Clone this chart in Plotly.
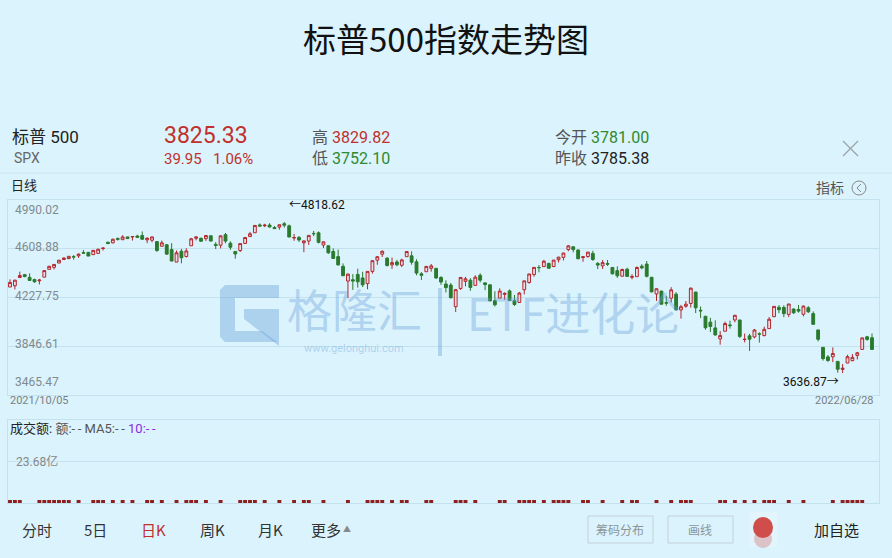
import plotly.graph_objects as go

W, H = 892, 558

# ---------------------------------------------------------------- data --- #
# trading days in the feed (the feed skips 2021-11-02 .. 2021-11-10)
months = ["2021-10", "2021-11", "2021-12", "2022-01", "2022-02",
          "2022-03", "2022-04", "2022-05", "2022-06"]
month_days = [
    [5, 6, 7, 8, 11, 12, 13, 14, 15, 18, 19, 20, 21, 22, 25, 26, 27, 28, 29],
    [1, 11, 12, 15, 16, 17, 18, 19, 22, 23, 24, 26, 29, 30],
    [1, 2, 3, 6, 7, 8, 9, 10, 13, 14, 15, 16, 17, 20, 21, 22, 23, 27, 28, 29, 30, 31],
    [3, 4, 5, 6, 7, 10, 11, 12, 13, 14, 18, 19, 20, 21, 24, 25, 26, 27, 28, 31],
    [1, 2, 3, 4, 7, 8, 9, 10, 11, 14, 15, 16, 17, 18, 22, 23, 24, 25, 28],
    [1, 2, 3, 4, 7, 8, 9, 10, 11, 14, 15, 16, 17, 18, 21, 22, 23, 24, 25, 28, 29, 30, 31],
    [1, 4, 5, 6, 7, 8, 11, 12, 13, 14, 18, 19, 20, 21, 22, 25, 26, 27, 28, 29],
    [2, 3, 4, 5, 6, 9, 10, 11, 12, 13, 16, 17, 18, 19, 20, 23, 24, 25, 26, 27, 31],
    [1, 2, 3, 6, 7, 8, 9, 10, 13, 14, 15, 16, 17, 21, 22, 23, 24, 27, 28],
]

opens = [
    4309.87, 4319.57, 4383.73, 4406.51, 4385.44, 4368.31, 4358.01, 4386.75, 4447.69, 4463.72,
    4497.34, 4524.42, 4532.24, 4546.12, 4553.69, 4578.69, 4580.22, 4562.84, 4572.87,
    4610.62, 4659.39, 4655.24, 4689.30, 4679.42, 4701.50, 4700.72, 4708.44, 4712.00, 4678.48,
    4675.78, 4664.63, 4628.75, 4640.25,
    4602.82, 4504.73, 4589.49, 4548.37, 4631.97, 4690.86, 4691.00, 4687.64, 4710.30, 4642.99,
    4636.46, 4719.13, 4652.50, 4587.90, 4594.96, 4650.36, 4703.96, 4733.99, 4795.49, 4788.64,
    4794.23, 4775.21,
    4778.14, 4804.51, 4787.99, 4693.39, 4697.66, 4655.34, 4669.14, 4728.59, 4733.56, 4637.99,
    4632.24, 4588.03, 4547.35, 4471.38, 4356.32, 4366.64, 4408.43, 4380.58, 4336.19, 4431.79,
    4519.57, 4566.39, 4535.41, 4482.79, 4505.75, 4480.02, 4547.00, 4553.24, 4506.27, 4412.61,
    4429.28, 4455.75, 4456.06, 4384.57, 4332.74, 4324.93, 4155.77, 4298.38, 4354.17,
    4363.14, 4322.56, 4401.31, 4342.12, 4327.01, 4202.66, 4223.10, 4252.55, 4279.50, 4202.75,
    4188.82, 4288.14, 4345.11, 4407.34, 4462.40, 4469.10, 4493.10, 4469.98, 4522.91, 4541.09,
    4602.86, 4624.20, 4599.02,
    4540.32, 4547.97, 4572.45, 4494.17, 4474.65, 4494.15, 4462.64, 4437.59, 4394.30, 4449.12,
    4385.63, 4390.63, 4472.26, 4489.17, 4385.83, 4255.34, 4278.14, 4186.52, 4222.58, 4253.75,
    4130.61, 4159.78, 4181.18, 4270.43, 4128.17, 4081.27, 4035.18, 3990.08, 3903.95, 3963.90,
    4013.02, 4052.00, 4051.98, 3899.00, 3927.76, 3919.42, 3942.94, 3929.59, 3984.60, 4077.43,
    4151.09,
    4149.78, 4095.41, 4137.57, 4134.72, 4096.47, 4147.12, 4101.65, 3974.39, 3838.15, 3763.52,
    3764.05, 3728.18, 3665.90, 3715.31, 3733.89, 3774.71, 3821.75, 3920.76, 3913.00,
]
highs = [
    4369.23, 4365.57, 4429.97, 4412.02, 4415.88, 4374.89, 4372.87, 4439.73, 4475.82, 4488.75,
    4520.40, 4540.87, 4551.44, 4559.67, 4572.62, 4598.53, 4584.57, 4597.55, 4608.08,
    4620.34, 4664.55, 4688.47, 4697.42, 4714.95, 4701.50, 4708.80, 4717.75, 4743.83, 4699.39,
    4702.87, 4664.63, 4672.95, 4646.02,
    4652.94, 4595.46, 4608.03, 4612.60, 4694.04, 4705.06, 4695.26, 4713.57, 4710.30, 4660.47,
    4712.60, 4731.99, 4666.70, 4587.90, 4651.14, 4697.67, 4740.74, 4791.49, 4807.02, 4804.06,
    4808.93, 4786.83,
    4796.64, 4818.62, 4797.70, 4725.01, 4707.95, 4673.02, 4714.13, 4748.83, 4744.13, 4665.13,
    4632.24, 4611.55, 4602.11, 4494.52, 4417.35, 4411.01, 4453.23, 4428.74, 4432.72, 4516.89,
    4550.49, 4595.31, 4542.88, 4539.66, 4521.86, 4531.32, 4590.03, 4588.92, 4526.33, 4426.22,
    4472.77, 4489.55, 4456.06, 4394.60, 4362.12, 4341.51, 4294.73, 4385.34, 4388.84,
    4378.45, 4401.48, 4416.78, 4342.12, 4327.01, 4276.94, 4299.40, 4268.28, 4291.01, 4247.57,
    4271.05, 4358.90, 4412.67, 4465.40, 4481.75, 4522.00, 4501.07, 4520.58, 4546.03, 4575.65,
    4637.30, 4627.77, 4603.07,
    4548.70, 4583.50, 4593.45, 4503.94, 4521.16, 4520.41, 4464.35, 4471.00, 4453.92, 4460.46,
    4410.31, 4471.03, 4488.29, 4512.94, 4385.83, 4299.02, 4278.14, 4240.71, 4308.45, 4269.68,
    4169.81, 4200.10, 4307.66, 4270.43, 4157.69, 4081.27, 4068.82, 4049.09, 3964.80, 4038.88,
    4046.46, 4090.72, 4051.98, 3945.96, 3943.42, 3981.88, 3955.68, 3999.33, 4075.14, 4158.49,
    4168.34,
    4166.54, 4177.51, 4142.67, 4168.78, 4164.86, 4160.14, 4119.10, 3974.39, 3838.15, 3778.18,
    3837.56, 3728.18, 3707.71, 3779.65, 3785.33, 3802.58, 3913.65, 3927.72, 3945.86,
]
lows = [
    4309.87, 4290.49, 4383.73, 4386.22, 4360.59, 4342.09, 4329.92, 4386.75, 4447.69, 4447.47,
    4496.41, 4524.40, 4526.89, 4524.00, 4537.36, 4569.17, 4551.66, 4562.84, 4567.59,
    4595.06, 4648.31, 4650.77, 4672.86, 4679.42, 4684.41, 4672.78, 4694.22, 4682.17, 4652.66,
    4659.89, 4585.43, 4625.26, 4560.00,
    4510.27, 4504.73, 4495.12, 4540.51, 4631.97, 4674.52, 4665.98, 4670.24, 4667.60, 4606.52,
    4611.22, 4651.89, 4600.22, 4531.10, 4583.16, 4645.53, 4703.96, 4733.99, 4780.04, 4778.08,
    4775.33, 4765.75,
    4758.17, 4774.27, 4699.44, 4671.26, 4662.74, 4582.24, 4638.27, 4706.71, 4650.29, 4614.75,
    4568.70, 4530.20, 4477.95, 4395.34, 4222.62, 4287.11, 4304.80, 4309.50, 4292.46, 4414.02,
    4483.53, 4544.32, 4470.39, 4451.50, 4471.47, 4465.40, 4547.00, 4484.31, 4401.41, 4364.84,
    4429.28, 4429.68, 4373.81, 4327.22, 4267.11, 4221.51, 4114.65, 4286.83, 4315.12,
    4279.54, 4322.56, 4345.56, 4284.98, 4199.85, 4157.87, 4223.10, 4209.80, 4200.49, 4161.72,
    4187.90, 4251.99, 4335.65, 4390.57, 4424.30, 4469.10, 4455.81, 4465.17, 4501.07, 4517.69,
    4589.66, 4581.32, 4530.41,
    4507.57, 4539.21, 4514.17, 4450.04, 4450.30, 4474.60, 4408.38, 4381.34, 4392.70, 4390.77,
    4370.30, 4390.63, 4448.76, 4384.47, 4267.62, 4200.82, 4175.04, 4162.90, 4188.63, 4124.28,
    4062.51, 4147.08, 4148.91, 4106.01, 4067.91, 3975.48, 3958.17, 3928.82, 3858.87, 3963.90,
    3983.99, 4033.93, 3911.91, 3876.58, 3810.32, 3909.04, 3875.13, 3925.03, 3984.60, 4077.43,
    4104.88,
    4073.85, 4074.37, 4098.67, 4109.18, 4080.19, 4107.20, 4017.17, 3883.79, 3734.30, 3724.38,
    3722.30, 3639.77, 3636.87, 3715.31, 3729.25, 3743.52, 3821.75, 3889.66, 3820.14,
]
closes = [
    4345.72, 4363.55, 4399.76, 4391.34, 4361.19, 4350.65, 4363.80, 4438.26, 4471.37, 4486.46,
    4519.63, 4536.19, 4549.78, 4544.90, 4566.48, 4574.79, 4551.68, 4596.42, 4605.38,
    4613.67, 4649.27, 4682.85, 4682.80, 4700.90, 4688.67, 4704.54, 4697.96, 4682.94, 4690.70,
    4701.46, 4594.62, 4655.27, 4567.00,
    4513.04, 4577.10, 4538.43, 4591.67, 4686.75, 4701.21, 4667.45, 4712.02, 4668.97, 4634.09,
    4709.85, 4668.67, 4620.64, 4568.02, 4649.23, 4696.56, 4725.79, 4791.19, 4786.35, 4793.06,
    4778.73, 4766.18,
    4796.56, 4793.54, 4700.58, 4696.05, 4677.03, 4670.29, 4713.07, 4726.35, 4659.03, 4662.85,
    4577.11, 4532.76, 4482.73, 4397.94, 4410.13, 4356.45, 4349.93, 4326.51, 4431.85, 4515.55,
    4546.54, 4589.38, 4477.44, 4500.53, 4483.87, 4521.54, 4587.18, 4504.08, 4418.64, 4401.67,
    4471.07, 4475.01, 4380.26, 4348.87, 4304.76, 4225.50, 4288.70, 4384.65, 4373.94,
    4306.26, 4386.54, 4363.49, 4328.87, 4201.09, 4170.70, 4277.88, 4259.52, 4204.31, 4173.11,
    4262.45, 4357.86, 4411.67, 4463.12, 4461.18, 4511.61, 4456.24, 4520.16, 4543.06, 4575.52,
    4631.60, 4602.45, 4530.41,
    4545.86, 4582.64, 4525.12, 4481.15, 4500.21, 4488.28, 4412.53, 4397.45, 4446.59, 4392.59,
    4391.69, 4462.21, 4459.45, 4393.66, 4271.78, 4296.12, 4175.20, 4183.96, 4287.50, 4131.93,
    4155.38, 4175.48, 4300.17, 4146.87, 4123.34, 3991.24, 4001.05, 3935.18, 3930.08, 4023.89,
    4008.01, 4088.85, 3923.68, 3900.79, 3901.36, 3973.75, 3941.48, 3978.73, 4057.84, 4158.24,
    4132.15,
    4101.23, 4176.82, 4108.54, 4121.43, 4160.68, 4115.77, 4017.82, 3900.86, 3749.63, 3735.48,
    3789.99, 3666.77, 3674.84, 3764.79, 3759.89, 3795.73, 3911.74, 3900.11, 3821.55,
]

price_ticks = [4990.02, 4608.88, 4227.75, 3846.61, 3465.47]
vol_tick = 23.68  # 亿

dates = [f"{m}-{d:02d}" for m, days in zip(months, month_days) for d in days]
assert len(dates) == len(opens) == len(highs) == len(lows) == len(closes)

# ------------------------------------------------------------- helpers --- #
def px(x):
    return x / W


def py(y):
    return 1 - y / H


def path(points):
    s = "M " + " L ".join(f"{px(x):.5f},{py(y):.5f}" for x, y in points)
    return s + " Z"


RED = "#c0302c"
GREEN = "#2f8a2f"
UP_LINE = "#b3262c"
DOWN = "#2a7a2d"
BG = "#dbf3fc"
GRID = "#c4e2ee"
FONT = "Roboto, Noto Sans CJK SC, sans-serif"
CJK = "Noto Sans CJK SC, sans-serif"
WM = "rgba(105,160,218,0.40)"

annotations = []


def txt(x, y, text, size, color="#222", anchor="left", family=FONT):
    annotations.append(dict(
        x=px(x), y=py(y), xref="paper", yref="paper", text=text,
        showarrow=False, xanchor=anchor, yanchor="middle",
        font=dict(size=size, color=color, family=family),
    ))


# ------------------------------------------------------------- figure --- #
fig = go.Figure()

fig.add_trace(go.Candlestick(
    x=dates, open=opens, high=highs, low=lows, close=closes,
    increasing=dict(line=dict(color=UP_LINE, width=1), fillcolor="rgba(244,214,222,0.75)"),
    decreasing=dict(line=dict(color=DOWN, width=1), fillcolor=DOWN),
    whiskerwidth=0, showlegend=False, name="SPX",
    xaxis="x", yaxis="y",
))

# volume pane: only tiny stubs on up days are visible in the app
up_dates = [d for d, o, c in zip(dates, opens, closes) if c >= o]
fig.add_trace(go.Bar(
    x=up_dates, y=[1.7] * len(up_dates), marker_color="#8e1f1f",
    marker_line_width=0, width=0.8, showlegend=False,
    xaxis="x2", yaxis="y2", hoverinfo="skip",
))

n = len(dates)
step = (872 - 10) / (n - 1)
x_range = [-(10 - 8) / step, (n - 1) + (879 - 872) / step]

axis_common = dict(showline=True, mirror=True, linecolor=GRID, linewidth=1,
                   zeroline=False, fixedrange=True)

fig.update_layout(
    width=W, height=H, autosize=False,
    margin=dict(l=0, r=0, t=0, b=0),
    paper_bgcolor=BG, plot_bgcolor=BG,
    font=dict(family=FONT),
    boxgap=0.18,
    xaxis=dict(domain=[px(8), px(879)], type="category", range=x_range,
               showticklabels=False, showgrid=False, ticks="",
               rangeslider=dict(visible=False), **axis_common),
    yaxis=dict(domain=[py(395), py(200)], range=[price_ticks[-1], price_ticks[0]],
               tickvals=price_ticks[1:-1], showticklabels=False, showgrid=True,
               gridcolor=GRID, gridwidth=1, ticks="", **axis_common),
    xaxis2=dict(domain=[px(8), px(879)], type="category", range=x_range,
                categoryorder="array", categoryarray=dates, anchor="y2",
                showticklabels=False, showgrid=False, ticks="", **axis_common),
    yaxis2=dict(domain=[py(503), py(420)], range=[0, vol_tick * 2],
                tickvals=[vol_tick], showticklabels=False, showgrid=True,
                gridcolor=GRID, ticks="", anchor="x2", **axis_common),
)

# ---------------------------------------------------------------- text --- #
txt(446, 38, "标普500指数走势图", 33, "#111", "center", CJK)

txt(10, 137, "标普 500", 17, "#222")
txt(12, 158, "SPX", 14, "#666")
txt(162, 135, "3825.33", 23, RED)
txt(162, 159, "39.95", 15, RED)
txt(211, 159, "1.06%", 15, RED)
txt(310, 137, f"<span style='color:#555'>高</span> <span style='color:{RED}'>3829.82</span>", 16)
txt(310, 158, f"<span style='color:#555'>低</span> <span style='color:{GREEN}'>3752.10</span>", 16)
txt(553, 137, f"<span style='color:#555'>今开</span> <span style='color:{GREEN}'>3781.00</span>", 16)
txt(553, 158, "<span style='color:#555'>昨收</span> <span style='color:#222'>3785.38</span>", 16)

txt(9, 185, "日线", 13, "#222")
txt(846, 188, "指标", 14, "#555", "right")

# price labels inside the chart
for v in price_ticks:
    if v == price_ticks[0]:
        ya, ys = "top", -1
    elif v == price_ticks[-1]:
        ya, ys = "bottom", 4
    else:
        ya, ys = "middle", 2
    annotations.append(dict(
        x=px(13), y=v, xref="paper", yref="y", text=f"{v:.2f}", showarrow=False,
        xanchor="left", yanchor=ya, yshift=ys,
        font=dict(size=12, color="#808a90", family=FONT),
    ))

txt(8, 400, dates[0].replace("-", "/"), 11, "#7a7f84")
txt(876, 400, dates[-1].replace("-", "/"), 11, "#7a7f84", "right")

# high / low markers
i_hi = highs.index(max(highs))
i_lo = lows.index(min(lows))
annotations.append(dict(
    x=dates[i_hi], y=highs[i_hi], xref="x", yref="y", text=f"←{highs[i_hi]:.2f}",
    showarrow=False, xanchor="left", yanchor="middle", xshift=3, yshift=17,
    font=dict(size=12, color="#111", family=FONT),
))
annotations.append(dict(
    x=dates[i_lo], y=lows[i_lo], xref="x", yref="y", text=f"{lows[i_lo]:.2f}→",
    showarrow=False, xanchor="right", yanchor="middle", xshift=-2, yshift=-9,
    font=dict(size=12, color="#111", family=FONT),
))

# volume pane header
dd = "-\u2009-"
txt(8, 428, f"成交额: <span style='color:#555'>额:{dd} MA5:{dd}</span> "
    f"<span style='color:#8a2be2'>10:{dd}</span>", 13, "#222")
txt(14, 461, "23.68亿", 12, "#888")

# watermark
txt(354, 308, "格隆汇", 45, WM, "center", CJK)
txt(354, 348, "www.gelonghui.com", 11, WM, "center", FONT)
txt(573, 311, "ETF进化论", 45, WM, "center", CJK)

# bottom toolbar
txt(37, 529, "分时", 15, "#333", "center", CJK)
txt(95, 529, "5日", 15, "#333", "center", CJK)
txt(153, 529, "日K", 15, RED, "center", CJK)
txt(212, 529, "周K", 15, "#333", "center", CJK)
txt(270, 529, "月K", 15, "#333", "center", CJK)
txt(326, 529, "更多", 15, "#333", "center", CJK)
txt(347, 529, "▲", 8, "#888", "center")
txt(620, 529, "筹码分布", 12, "#8a959b", "center", CJK)
txt(700, 529, "画线", 12, "#8a959b", "center", CJK)
txt(836, 529, "加自选", 15, "#222", "center", CJK)

# -------------------------------------------------------------- shapes --- #
shapes = [
    # header separator
    dict(type="line", xref="paper", yref="paper", x0=0, x1=1, y0=py(173), y1=py(173),
         line=dict(color="#cbe6f0", width=1)),
    # close icon
    dict(type="line", xref="paper", yref="paper", x0=px(843), x1=px(858),
         y0=py(141), y1=py(156), line=dict(color="#9aa3a8", width=1.3)),
    dict(type="line", xref="paper", yref="paper", x0=px(843), x1=px(858),
         y0=py(156), y1=py(141), line=dict(color="#9aa3a8", width=1.3)),
    # 指标 circled arrow
    dict(type="circle", xref="paper", yref="paper", x0=px(852), x1=px(866),
         y0=py(195), y1=py(181), line=dict(color="#888", width=1)),
    dict(type="path", xref="paper", yref="paper",
         path=f"M {px(861):.5f},{py(184):.5f} L {px(857):.5f},{py(188):.5f} L {px(861):.5f},{py(192):.5f}",
         line=dict(color="#888", width=1)),
    # watermark G logo
    dict(type="path", xref="paper", yref="paper", fillcolor=WM, line=dict(width=0),
         path=path([(225, 285), (279, 285), (279, 298), (235, 298), (235, 331),
                    (262, 331), (277, 342), (225, 342), (220, 337), (220, 290)])),
    dict(type="path", xref="paper", yref="paper", fillcolor=WM, line=dict(width=0),
         path=path([(244, 309), (279, 309), (279, 346), (244, 319)])),
    dict(type="rect", xref="paper", yref="paper", x0=px(438), x1=px(442),
         y0=py(356), y1=py(288), fillcolor=WM, line=dict(width=0)),
    # toolbar buttons
    dict(type="rect", xref="paper", yref="paper", x0=px(588), x1=px(653),
         y0=py(543), y1=py(516), line=dict(color="#c3d2d9", width=1)),
    dict(type="rect", xref="paper", yref="paper", x0=px(668), x1=px(733),
         y0=py(543), y1=py(516), line=dict(color="#c3d2d9", width=1)),
    dict(type="rect", xref="paper", yref="paper", x0=px(750), x1=px(777),
         y0=py(547), y1=py(512), fillcolor="rgba(255,255,255,0.22)", line=dict(width=0)),
    dict(type="circle", xref="paper", yref="paper", x0=px(754), x1=px(772),
         y0=py(548), y1=py(530), fillcolor="rgba(205,80,78,0.30)", line=dict(width=0)),
    dict(type="circle", xref="paper", yref="paper", x0=px(753), x1=px(773),
         y0=py(538), y1=py(517), fillcolor="#cf4d4a", line=dict(width=0)),
]

fig.update_layout(annotations=annotations, shapes=shapes)

# the page body has a default 8px margin; drop it so the figure fills the window
fig.write_html("out.html", config={"displayModeBar": False},
               post_script="document.body.style.margin='0px';")
